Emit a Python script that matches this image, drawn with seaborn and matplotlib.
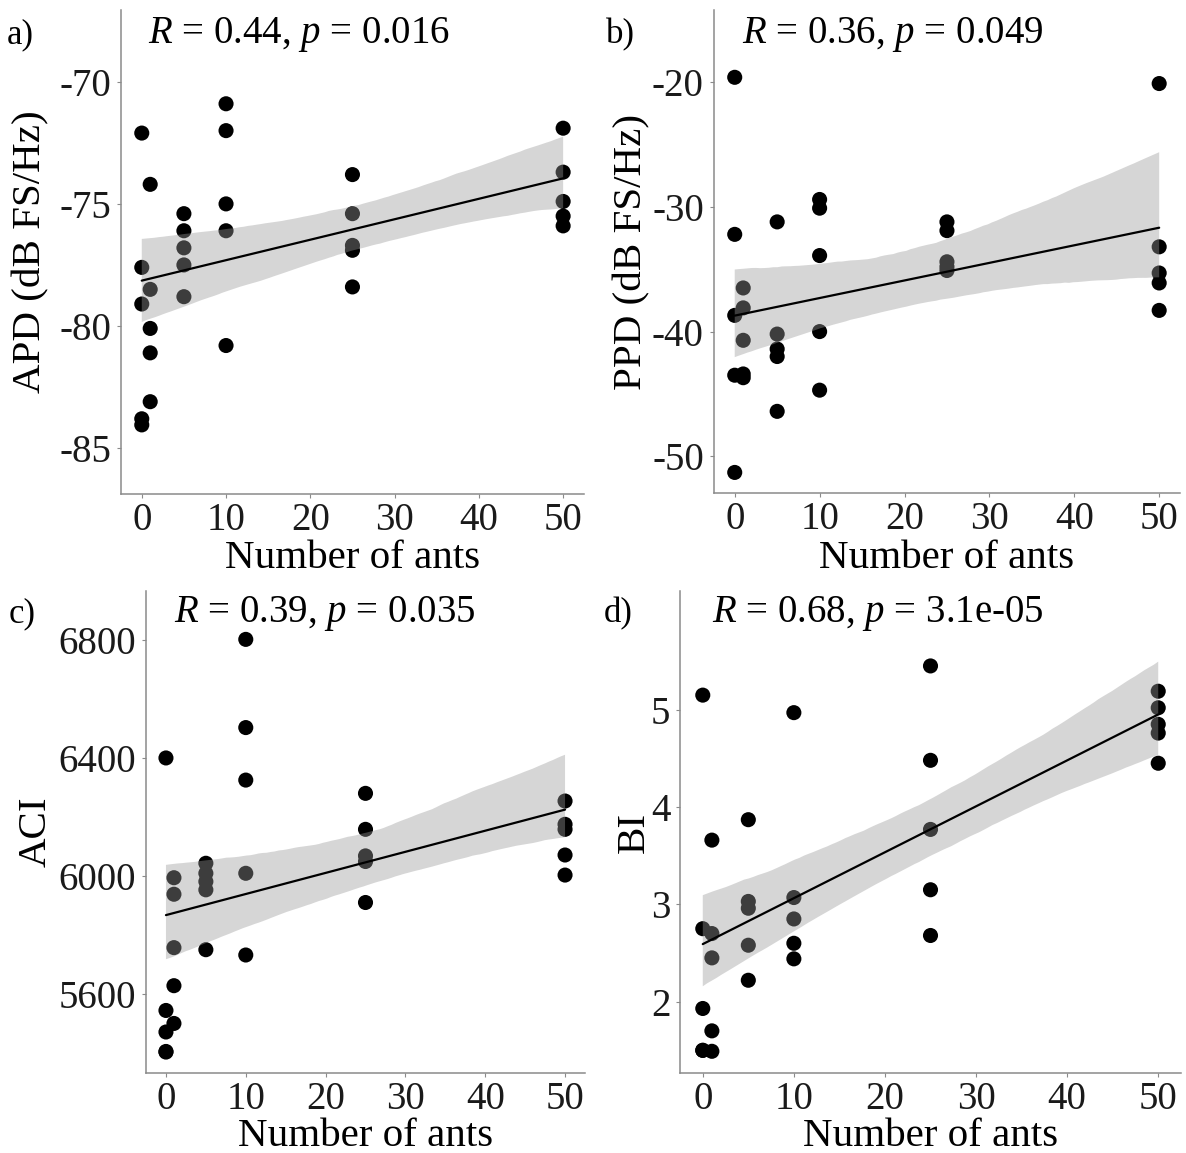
import numpy as np
import pandas as pd
import matplotlib
matplotlib.use("Agg")
import matplotlib.pyplot as plt
from matplotlib.collections import PolyCollection
import seaborn as sns

# ---------------- data ----------------
ants = [0, 0, 0, 0, 0,
        1, 1, 1, 1, 1,
        5, 5, 5, 5, 5,
        10, 10, 10, 10, 10,
        25, 25, 25, 25, 25,
        50, 50, 50, 50, 50]

apd = [-72.1, -77.6, -79.1, -83.8, -84.05,
       -74.2, -78.5, -80.1, -81.1, -83.1,
       -75.4, -76.1, -76.8, -77.5, -78.8,
       -70.9, -72.0, -75.0, -76.1, -80.8,
       -73.8, -75.4, -76.7, -76.9, -78.4,
       -71.9, -73.7, -74.9, -75.5, -75.9]

ppd = [-19.6, -32.2, -38.7, -43.5, -51.3,
       -36.5, -38.1, -40.7, -43.4, -43.7,
       -31.2, -40.2, -41.4, -42.0, -46.4,
       -29.4, -30.1, -33.9, -40.0, -44.7,
       -31.2, -31.9, -34.4, -34.8, -35.1,
       -20.1, -33.2, -35.3, -36.1, -38.3]

aci = [6400, 5544, 5471, 5403, 5405,
       5994, 5938, 5757, 5628, 5500,
       6043, 6009, 5981, 5953, 5750,
       6802, 6503, 6325, 6009, 5732,
       6280, 6158, 6068, 6049, 5910,
       6254, 6175, 6158, 6071, 6003]

bi = [5.15, 2.75, 1.93, 1.50, 1.50,
      3.66, 2.70, 2.45, 1.70, 1.49,
      3.87, 3.03, 2.96, 2.58, 2.22,
      4.97, 3.07, 2.85, 2.60, 2.44,
      5.45, 4.48, 3.77, 3.15, 2.68,
      5.19, 5.02, 4.85, 4.76, 4.45]

panel_letters = ["a)", "b)", "c)", "d)"]
y_labels = ["APD (dB FS/Hz)", "PPD (dB FS/Hz)", "ACI", "BI"]
stat_labels = [r"$R$ = 0.44, $p$ = 0.016",
               r"$R$ = 0.36, $p$ = 0.049",
               r"$R$ = 0.39, $p$ = 0.035",
               r"$R$ = 0.68, $p$ = 3.1e-05"]
x_label = "Number of ants"
x_ticks = [0, 10, 20, 30, 40, 50]
y_ticks = [[-85, -80, -75, -70],
           [-50, -40, -30, -20],
           [5600, 6000, 6400, 6800],
           [2, 3, 4, 5]]

df = pd.DataFrame({"ants": ants, "APD": apd, "PPD": ppd, "ACI": aci, "BI": bi})
cols = ["APD", "PPD", "ACI", "BI"]

# ---------------- style ----------------
sns.set_theme(style="ticks")
plt.rcParams["font.family"] = ["Liberation Serif", "DejaVu Serif"]
plt.rcParams["mathtext.fontset"] = "custom"
plt.rcParams["mathtext.rm"] = "Liberation Serif"
plt.rcParams["mathtext.it"] = "Liberation Serif:italic"
plt.rcParams["axes.unicode_minus"] = False

W, H = 1186, 1153
fig = plt.figure(figsize=(W / 100, H / 100), dpi=100)


def rect(left, right, top, bottom):
    return [left / W, 1 - bottom / H, (right - left) / W, (bottom - top) / H]


axes_px = [(120.7, 584.2, 10, 494),
           (713.5, 1180.4, 10, 493),
           (146, 585, 591, 1073),
           (680, 1181, 591, 1073)]
ylims = [(-86.88, -67.06), (-52.95, -14.2), (5332, 6966), (1.267, 6.22)]
letter_px = [(7, 43), (606, 43), (9, 622), (604, 622)]
stat_px = [(148, 43), (742, 43), (174, 622), (712, 622)]
ylab_x = [31, 632, 36, 634]
xlab_base = [568, 568, 1146, 1146]

spine_col = "#8a8a8a"
for i, col in enumerate(cols):
    l, r, t, b = axes_px[i]
    ax = fig.add_axes(rect(l, r, t, b))
    sns.scatterplot(data=df, x="ants", y=col, color="black", s=118,
                    edgecolor="none", linewidth=0, ax=ax, zorder=2)
    sns.regplot(data=df, x="ants", y=col, scatter=False, ci=95, n_boot=2000,
                seed=3, color="black", line_kws=dict(lw=1.6, zorder=4), ax=ax)
    for c in ax.collections:
        if isinstance(c, PolyCollection):
            c.set_facecolor("#999999")
            c.set_alpha(0.4)
            c.set_edgecolor("none")
            c.set_zorder(3)
    ax.set_xlim(-2.5, 52.5)
    ax.set_ylim(*ylims[i])
    ax.set_xticks(x_ticks)
    ax.set_yticks(y_ticks[i])
    ax.set_xlabel("")
    ax.set_ylabel("")
    for s in ["top", "right"]:
        ax.spines[s].set_visible(False)
    for s in ["left", "bottom"]:
        ax.spines[s].set_color(spine_col)
        ax.spines[s].set_linewidth(1.1)
    ax.tick_params(axis="both", which="major", length=3, width=0.8,
                   color=spine_col, labelsize=28, labelcolor="#1a1a1a")
    ax.tick_params(axis="x", pad=2.5)
    ax.tick_params(axis="y", pad=4)
    ax.set_facecolor("white")

    # texts
    fig.text(letter_px[i][0] / W, 1 - letter_px[i][1] / H, panel_letters[i],
             fontsize=25, ha="left", va="baseline", color="black")
    fig.text(stat_px[i][0] / W, 1 - stat_px[i][1] / H, stat_labels[i],
             fontsize=28, ha="left", va="baseline", color="black")
    fig.text(ylab_x[i] / W, 1 - ((t + b) / 2) / H, y_labels[i], rotation=90,
             fontsize=29.5, ha="center", va="center", color="black")
    fig.text(((l + r) / 2) / W, 1 - xlab_base[i] / H, x_label,
             fontsize=29.5, ha="center", va="baseline", color="black")

fig.savefig("out.png", dpi=100, facecolor="white")
